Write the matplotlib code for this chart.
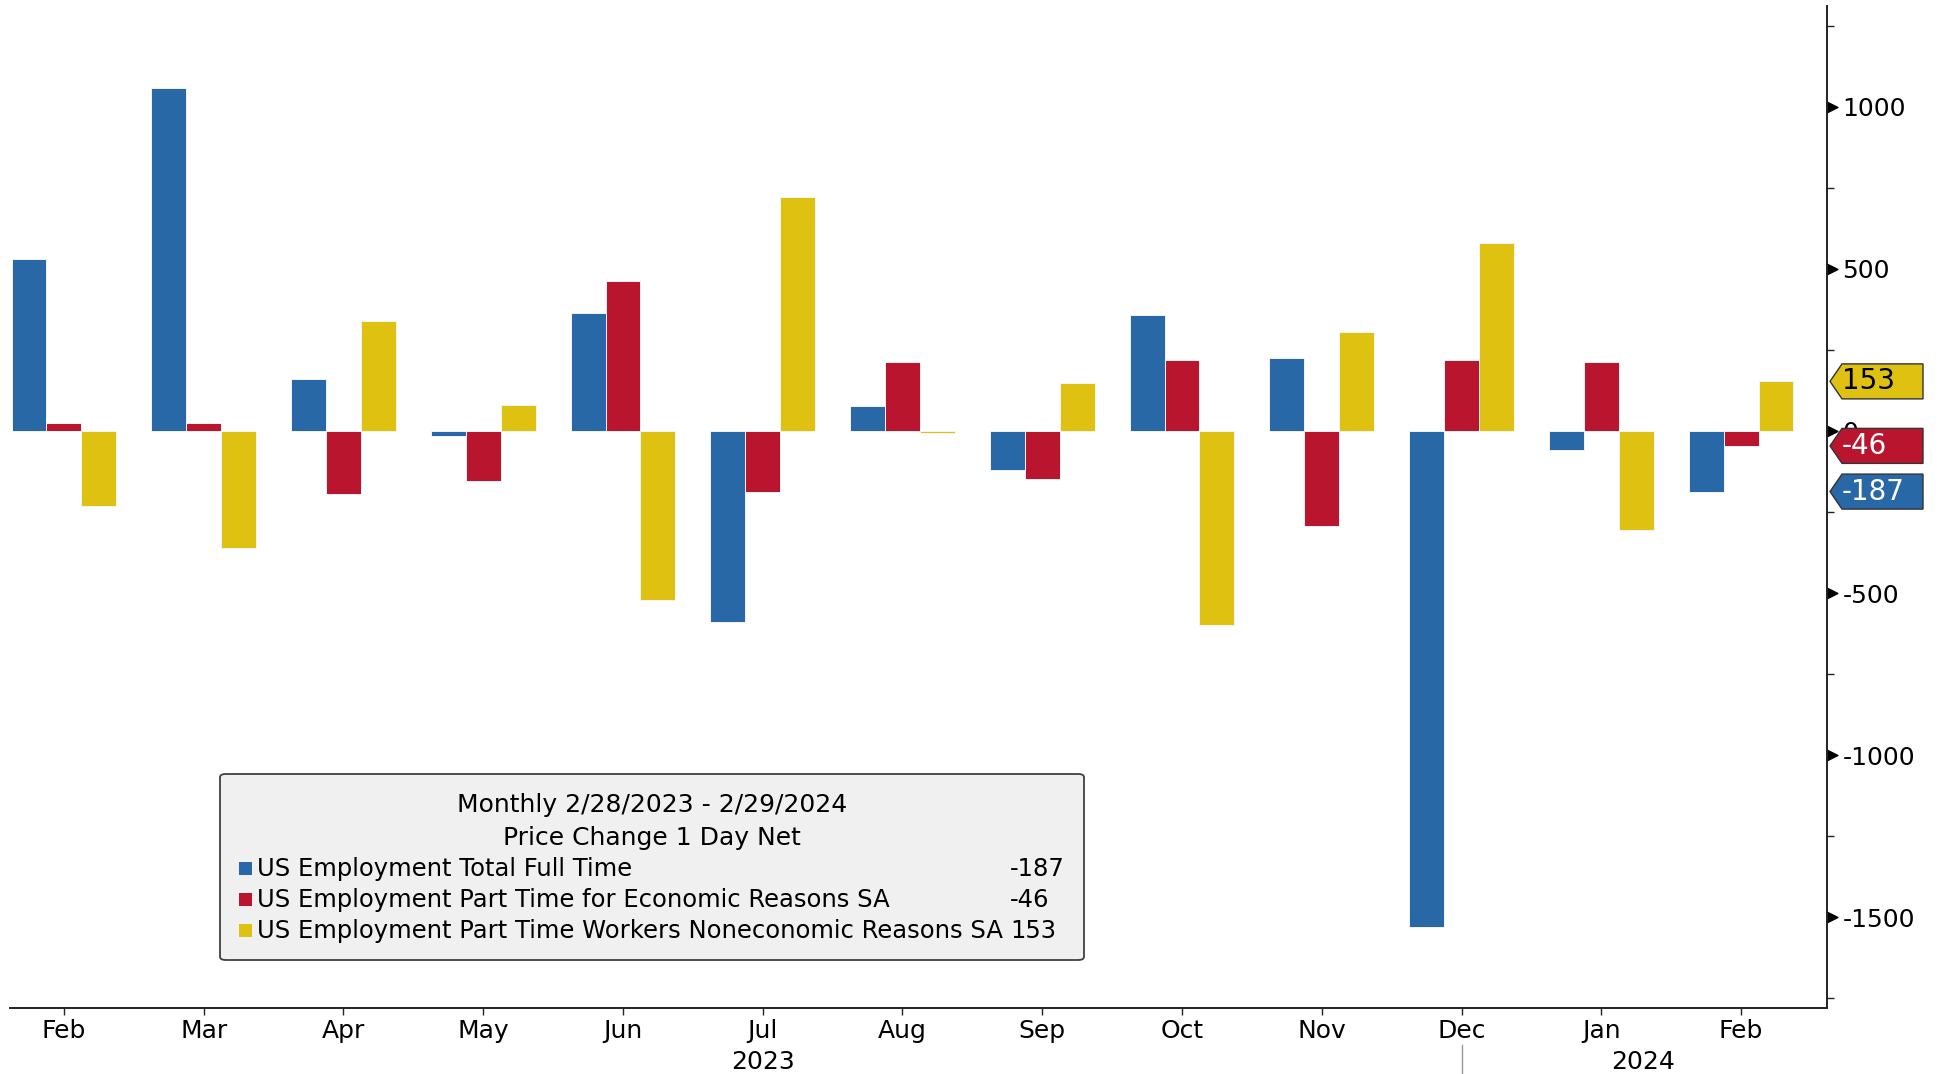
import numpy as np
import matplotlib.pyplot as plt
from matplotlib.patches import Polygon, FancyBboxPatch, Rectangle
from matplotlib.path import Path

# --- dades (mensual, variació neta) ---
months = ['Feb', 'Mar', 'Apr', 'May', 'Jun', 'Jul', 'Aug', 'Sep', 'Oct', 'Nov', 'Dec', 'Jan', 'Feb']
full_time = [531, 1059, 160, -15, 363, -590, 76, -121, 358, 225, -1529, -60, -187]
part_econ = [24, 24, -193, -155, 463, -189, 213, -147, 218, -292, 218, 213, -46]
part_nonecon = [-231, -361, 338, 80, -521, 722, -5, 148, -598, 305, 579, -304, 153]

series_names = ['US Employment Total Full Time',
                'US Employment Part Time for Economic Reasons SA',
                'US Employment Part Time Workers Noneconomic Reasons SA']
last_labels = ['-187', '-46', '153']
legend_title = ['Monthly 2/28/2023 - 2/29/2024', 'Price Change 1 Day Net']
y_ticks = [-1500, -1000, -500, 0, 500, 1000]
y_tick_labels = ['-1500', '-1000', '-500', '0', '500', '1000']

c_blue = '#2868A6'
c_red = '#BA152F'
c_yellow = '#DFC112'
colors = [c_blue, c_red, c_yellow]

plt.rcParams['font.family'] = ['DejaVu Sans']

W, H = 1940, 1074
fig = plt.figure(figsize=(W / 100, H / 100), dpi=100)

def fx(x):
    return x / W

def fy(y):
    return 1 - y / H

ax = fig.add_axes([fx(10), fy(1008), (1827 - 10) / W, (1008 - 6) / H])

x = np.arange(len(months))
w = 0.25
for off, vals, col in zip([-w, 0, w], [full_time, part_econ, part_nonecon], colors):
    ax.bar(x + off, vals, w, color=col, edgecolor='#f4f4f4', linewidth=0.7)

ax.set_xlim(-0.386, 12.615)
ax.set_ylim(-1780, 1311)

for s in ['left', 'top']:
    ax.spines[s].set_visible(False)
for s in ['right', 'bottom']:
    ax.spines[s].set_color('#222222')
    ax.spines[s].set_linewidth(1.4)

# eix Y a la dreta
ax.yaxis.tick_right()
ax.set_yticks(y_ticks)
ax.set_yticklabels(y_tick_labels)
ax.set_yticks(np.arange(-1750, 1300, 250), minor=True)
ax.tick_params(axis='y', which='major', length=0, pad=11, labelsize=18)
ax.tick_params(axis='y', which='minor', length=5, width=1, color='#222222')

tri = Path([(0, -1), (0, 1), (2, 0), (0, -1)],
           [Path.MOVETO, Path.LINETO, Path.LINETO, Path.CLOSEPOLY])
ax.plot(np.ones(len(y_ticks)), y_ticks, marker=tri, ls='none', ms=15,
        color='black', transform=ax.get_yaxis_transform(), clip_on=False)

# eix X
ax.set_xticks(x)
ax.set_xticklabels(months)
ax.tick_params(axis='x', length=5, width=1, color='#222222', pad=3, labelsize=18)

xt = ax.get_xaxis_transform()
ax.text(5, -0.054, '2023', transform=xt, ha='center', va='center', fontsize=18)
ax.text(11.3, -0.054, '2024', transform=xt, ha='center', va='center', fontsize=18)
ax.plot([10, 10], [-0.037, -0.07], transform=xt, clip_on=False, color='#999999', lw=1)

# etiquetes de l'últim valor
last_vals = [full_time[-1], part_econ[-1], part_nonecon[-1]]
text_cols = ['white', 'white', 'black']
for val, lab, col, tc in zip(last_vals, last_labels, colors, text_cols):
    yp = ax.transData.transform((0, val))[1]
    h = 17.5
    pts = [(1830, yp), (1842, yp + h), (1923, yp + h), (1923, yp - h), (1842, yp - h)]
    pts = [(px / W, py / H) for px, py in pts]
    fig.add_artist(Polygon(pts, closed=True, facecolor=col, edgecolor='#333333',
                           lw=1, transform=fig.transFigure, zorder=5))
    fig.text(fx(1842), yp / H, lab, color=tc, fontsize=20, ha='left', va='center', zorder=6)

# llegenda
box = FancyBboxPatch((fx(220), fy(960)), (1084 - 220) / W, (960 - 774) / H,
                     boxstyle='round,pad=0,rounding_size=0.003',
                     facecolor='#f0f0f0', edgecolor='#404040', lw=1.3,
                     transform=fig.transFigure, zorder=3)
fig.add_artist(box)
fig.text(fx(652), fy(805), legend_title[0], ha='center', va='center', fontsize=18, zorder=4)
fig.text(fx(652), fy(838), legend_title[1], ha='center', va='center', fontsize=18, zorder=4)
for i, (name, val, col) in enumerate(zip(series_names, last_labels, colors)):
    yy = 869 + 31 * i
    fig.add_artist(Rectangle((fx(239), fy(yy + 6)), 13 / W, 13 / H, facecolor=col,
                             edgecolor='none', transform=fig.transFigure, zorder=4))
    fig.text(fx(257), fy(yy), name, ha='left', va='center', fontsize=17.5, zorder=4)
    fig.text(fx(1010), fy(yy), val, ha='left', va='center', fontsize=17.5, zorder=4)

fig.savefig('out.png', dpi=100, facecolor='white')
